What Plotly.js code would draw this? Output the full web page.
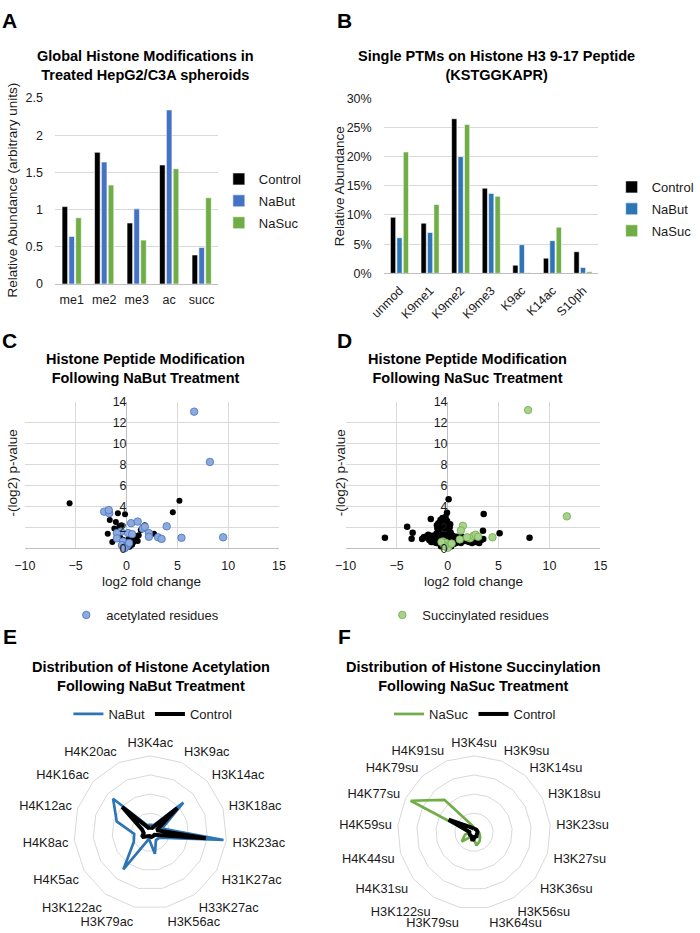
<!DOCTYPE html>
<html>
<head>
<meta charset="utf-8">
<script src="https://cdn.plot.ly/plotly-3.0.1.min.js"></script>
<style>html,body{margin:0;padding:0;background:#fff}#chart{width:700px;height:933px}</style>
</head>
<body>
<div id="chart"></div>
<script>
// ---------- Panel A data ----------
const aCategories = ['me1', 'me2', 'me3', 'ac', 'succ'];
const aControl = [1.04, 1.77, 0.82, 1.60, 0.39];
const aNaBut   = [0.64, 1.64, 1.01, 2.34, 0.49];
const aNaSuc   = [0.89, 1.33, 0.59, 1.55, 1.16];

// ---------- Panel B data (percent) ----------
const bCategories = ['unmod', 'K9me1', 'K9me2', 'K9me3', 'K9ac', 'K14ac', 'S10ph'];
const bControl = [9.6, 8.6, 26.5, 14.6, 1.4, 2.6, 3.7];
const bNaBut   = [6.1, 7.0, 20.0, 13.7, 4.9, 5.6, 1.0];
const bNaSuc   = [20.8, 11.8, 25.5, 13.2, 0.1, 7.9, 0.25];

// ---------- Panel C data (NaBut volcano) ----------
const cAllX = [-5.6, 5.2, 4.55, -0.85, -0.15, -1.65, -1.05, -0.5, -1.85, -1.4, 1.8, 2.7, 1.0, 1.4, 1.2, -0.9, -0.6, 0.4, 0.1, 0.7, 0.9, 0.3, -0.3, 0.55, 1.1, -1.2, -0.2, 0.2, 0.8, 0.0, 1.6, 0.6, -0.7];
const cAllY = [4.3, 4.55, 3.45, 3.35, 3.25, 2.7, 2.5, 2.2, 1.4, 0.6, 2.2, 1.4, 0.8, 1.75, 1.25, 1.75, 1.0, 0.5, 0.3, 0.6, 1.0, 0.15, 0.8, 0.35, 0.7, 1.9, 0.4, 0.9, 1.2, 0.1, 2.0, 0.9, 2.1];
const cAcX = [6.65, 8.2, -2.2, -1.7, -1.75, 0.45, 1.1, 3.95, 1.6, 1.8, 2.2, 2.2, 3.1, 3.45, 5.4, 9.5, 0.15, 0.55, -0.55, -0.95, -0.95, -0.35, -0.45, -0.05, 0.1, 0.25, -0.2];
const cAcY = [13.05, 8.25, 3.5, 3.35, 3.65, 2.4, 2.55, 2.1, 1.9, 2.05, 1.45, 1.1, 1.05, 0.9, 1.0, 1.05, 1.45, 1.35, 1.6, 1.45, 0.95, 0.65, 0.3, 0.15, 0.3, 0.5, 0.0];

// ---------- Panel D data (NaSuc volcano) ----------
const dAllX = [-6.15, -3.97, -3.43, -3.53, -2.34, -1.65, 0.1, -0.06, 3.54, 3.47, 5.1, 8.04,
  -0.2, -0.4, -0.1, 0.2, -0.6, -0.8, -1.0, -1.2, -1.5, -1.8, -0.3, 0.3, 0.5, 0.7, 0.9, 1.1, 1.4, 1.7, 2.0, 2.3,
  2.6, 2.9, 3.2, 3.5, 0.0, -0.5, -0.7, -0.9, -1.1, -0.15, 0.15, 0.4, 0.6, 0.8, 1.0, 1.3, 1.6, 2.1, 2.4, 2.8,
  3.1, -0.35, -0.65, -1.3, -1.6, -2.0, -0.05, 0.25, -0.25, -0.45, 0.05, -0.8, -1.0, 0.35,
  -0.9, -0.7, -0.5, -0.3, -0.1, 0.1, 0.3, -0.8, -0.6, -0.4, -0.2, 0.0, 0.2, 0.4, -1.1, -0.9, -0.7, -0.5, -0.3,
  -0.1, 0.1, 0.3, 0.5, -1.3, -1.5, -1.7, -2.2, -2.5, -1.9, -1.4, -1.2, -1.0, 0.6, 0.8, 1.0, 1.2, 1.5, 1.8, 2.2,
  2.5, 2.7, 3.0, 3.3, 0.45, 0.65, 0.85, -0.55, -0.35, -0.15, 0.05, -0.75, -1.05, -0.25, 0.15];
const dAllY = [1.01, 2.06, 1.49, 0.92, 1.05, 2.8, 4.68, 3.4, 3.27, 1.68, 1.43, 1.01,
  3.0, 2.5, 2.2, 2.0, 1.8, 1.6, 1.3, 1.1, 0.9, 0.8, 1.9, 1.5, 1.2, 1.0, 0.9, 0.8, 1.1, 0.9, 0.8, 1.0,
  0.9, 0.7, 0.8, 0.9, 1.4, 1.2, 0.9, 0.6, 0.5, 0.7, 0.9, 0.6, 0.4, 0.5, 0.6, 0.5, 0.7, 0.6, 0.5, 0.6,
  0.5, 0.3, 0.2, 0.7, 0.6, 1.0, 2.6, 2.3, 1.6, 1.0, 0.3, 2.1, 1.9, 0.2,
  2.4, 2.7, 2.9, 2.6, 2.4, 1.7, 1.3, 2.0, 1.7, 1.5, 1.3, 1.1, 1.2, 1.0, 1.4, 1.1, 1.0, 0.8, 0.6,
  0.5, 0.6, 0.7, 0.8, 0.9, 1.2, 1.0, 1.1, 0.9, 1.3, 0.6, 0.8, 0.9, 0.9, 0.7, 0.8, 0.9, 0.8, 0.7, 0.9,
  0.8, 1.0, 0.9, 0.8, 1.1, 1.0, 1.1, 1.9, 2.1, 1.8, 1.6, 2.3, 2.2, 0.9, 0.8];
const dSuX = [7.9, 11.7, 1.5, 1.3, 1.2, 2.2, 2.55, 2.75, 4.4, -0.45, -0.15, 0.15, 0.0, -0.3, 0.4, 1.9, 3.0, -0.6];
const dSuY = [13.2, 3.05, 2.15, 1.7, 0.85, 0.95, 1.2, 1.3, 1.05, 0.65, 0.5, 0.3, 0.05, 0.2, 0.45, 1.05, 1.1, 0.6];

// ---------- Panel E data (radar, acetylation; units = rings) ----------
const eCategories = ['H3K4ac', 'H3K9ac', 'H3K14ac', 'H3K18ac', 'H3K23ac', 'H31K27ac', 'H33K27ac', 'H3K56ac', 'H3K79ac', 'H3K122ac', 'H4K5ac', 'H4K8ac', 'H4K12ac', 'H4K16ac', 'H4K20ac'];
const eNaBut   = [0.4, 0.4, 2.32, 0.65, 3.85, 0.55, 0.5, 1.15, 0.35, 2.4, 1.0, 0.85, 1.85, 2.62, 0.4];
const eControl = [0.25, 0.25, 1.9, 0.35, 2.92, 0.25, 0.25, 0.25, 0.2, 0.25, 0.5, 0.35, 0.45, 1.98, 0.25];

// ---------- Panel F data (radar, succinylation; units = rings) ----------
const fCategories = ['H3K4su', 'H3K9su', 'H3K14su', 'H3K18su', 'H3K23su', 'H3K27su', 'H3K36su', 'H3K56su', 'H3K64su', 'H3K79su', 'H3K122su', 'H4K31su', 'H4K44su', 'H4K59su', 'H4K77su', 'H4K79su', 'H4K91su'];
const fNaSuc   = [0.25, 0.18, 0.18, 0.18, 0.25, 0.3, 0.4, 0.55, 0.7, 0.25, 0.25, 0.8, 0.5, 0.25, 3.7, 2.3, 0.45];
const fControl = [0.18, 0.18, 0.18, 0.18, 0.18, 0.18, 0.18, 0.25, 0.25, 0.45, 0.25, 0.25, 0.25, 0.25, 1.48, 0.4, 0.25];

// ---------- styling ----------
const FONT = '"Liberation Sans", Arial, sans-serif';
const TXT = '#1a1a1a';
const GRID = '#d9d9d9';
const AXLINE = '#bfbfbf';
const BLACK = '#000000';
const BLUE_A = '#4472C4';
const BLUE_B = '#2E75B6';
const GREEN = '#70AD47';
const W = 700, H = 933;
const px = v => v / W;
const py = v => 1 - v / H;
const close = arr => arr.concat([arr[0]]);

const traces = [];
// A
[['Control', aControl, BLACK], ['NaBut', aNaBut, BLUE_A], ['NaSuc', aNaSuc, GREEN]].forEach(([n, v, c]) => {
  traces.push({type: 'bar', name: n, x: aCategories, y: v, xaxis: 'x', yaxis: 'y',
    marker: {color: c, line: {color: '#ffffff', width: 0.6}}, legend: 'legend', legendgroup: 'a' + n});
});
// B
[['Control', bControl, BLACK], ['NaBut', bNaBut, BLUE_B], ['NaSuc', bNaSuc, GREEN]].forEach(([n, v, c]) => {
  traces.push({type: 'bar', name: n, x: bCategories, y: v, xaxis: 'x2', yaxis: 'y2',
    marker: {color: c, line: {color: '#ffffff', width: 0.6}}, legend: 'legend2', legendgroup: 'b' + n});
});
// C  (black points on the gridded axis, coloured points on the overlay axis whose labels sit at x = 0)
traces.push({type: 'scatter', mode: 'markers', x: cAllX, y: cAllY, xaxis: 'x3', yaxis: 'y3',
  marker: {color: BLACK, size: 6}, showlegend: false, name: 'all', cliponaxis: false});
traces.push({type: 'scatter', mode: 'markers', x: cAcX, y: cAcY, xaxis: 'x3', yaxis: 'y5',
  marker: {color: '#8EA9DB', size: 7.5, line: {color: '#4472C4', width: 0.8}},
  name: 'acetylated residues', legend: 'legend3', cliponaxis: false});
// D
traces.push({type: 'scatter', mode: 'markers', x: dAllX, y: dAllY, xaxis: 'x4', yaxis: 'y4',
  marker: {color: BLACK, size: 6.5}, showlegend: false, name: 'all', cliponaxis: false});
traces.push({type: 'scatter', mode: 'markers', x: dSuX, y: dSuY, xaxis: 'x4', yaxis: 'y6',
  marker: {color: '#A9D18E', size: 7.5, line: {color: '#70AD47', width: 0.8}},
  name: 'Succinylated residues', legend: 'legend4', cliponaxis: false});
// E
traces.push({type: 'scatterpolar', mode: 'lines', r: close(eNaBut), theta: close(eCategories), subplot: 'polar',
  line: {color: BLUE_B, width: 2.7}, name: 'NaBut', legend: 'legend5'});
traces.push({type: 'scatterpolar', mode: 'lines', r: close(eControl), theta: close(eCategories), subplot: 'polar',
  line: {color: BLACK, width: 4}, name: 'Control', legend: 'legend5'});
// F
traces.push({type: 'scatterpolar', mode: 'lines', r: close(fNaSuc), theta: close(fCategories), subplot: 'polar2',
  line: {color: GREEN, width: 2.7}, name: 'NaSuc', legend: 'legend6'});
traces.push({type: 'scatterpolar', mode: 'lines', r: close(fControl), theta: close(fCategories), subplot: 'polar2',
  line: {color: BLACK, width: 4}, name: 'Control', legend: 'legend6'});

const tickFont = {family: FONT, size: 12.5, color: TXT};
const barY = (dom, anchor, range, dtick, suffix) => ({domain: dom, anchor: anchor, range: range, dtick: dtick, ticksuffix: suffix || '',
  showgrid: true, gridcolor: GRID, zeroline: false, showline: false, ticks: 'outside', ticklen: 9,
  tickcolor: 'rgba(0,0,0,0)', tickfont: tickFont});
const barX = (dom, anchor, angle) => ({domain: dom, anchor: anchor, showline: true, linecolor: AXLINE, linewidth: 1,
  ticks: 'outside', ticklen: 4, tickcolor: 'rgba(0,0,0,0)', tickfont: tickFont, tickangle: angle, showgrid: false});
const volX = (dom, anchor) => ({domain: dom, anchor: anchor, range: [-10, 15], dtick: 5, showgrid: true, gridcolor: GRID,
  zeroline: true, zerolinecolor: AXLINE, zerolinewidth: 1, showline: false, ticks: 'outside', ticklen: 6,
  tickcolor: 'rgba(0,0,0,0)', tickfont: tickFont});
const volY = (dom, anchor) => ({domain: dom, anchor: anchor, range: [0, 14], dtick: 2, showgrid: true,
  gridcolor: GRID, zeroline: true, zerolinecolor: AXLINE, zerolinewidth: 1, showline: false, ticks: '',
  showticklabels: false});
const volYLabels = (over, pos) => ({overlaying: over, anchor: 'free', position: pos, range: [0, 14], dtick: 2,
  showgrid: false, zeroline: false, showline: false, ticks: '', tickfont: tickFont, layer: 'above traces'});
const polar = (xd, yd) => ({domain: {x: xd, y: yd}, bgcolor: '#ffffff', gridshape: 'linear',
  radialaxis: {range: [0, 4], dtick: 1, showticklabels: false, ticks: '', showline: false, gridcolor: GRID, gridwidth: 1},
  angularaxis: {direction: 'clockwise', rotation: 90, showgrid: false, linecolor: GRID, linewidth: 1,
    ticks: 'outside', ticklen: 3, tickcolor: 'rgba(0,0,0,0)', tickfont: {family: FONT, size: 12.8, color: TXT}}});
const legendBase = {font: {family: FONT, size: 13, color: TXT}, bgcolor: 'rgba(0,0,0,0)', borderwidth: 0};

const ann = (text, x, y, opts) => Object.assign({text: text, x: px(x), y: py(y), xref: 'paper', yref: 'paper',
  showarrow: false, xanchor: 'center', yanchor: 'middle', font: {family: FONT, size: 12.5, color: TXT}}, opts || {});
const titleFont = {family: FONT, size: 14.5, color: '#000'};
const letterFont = {family: FONT, size: 21, color: '#000'};
const axTitleFont = {family: FONT, size: 13.5, color: TXT};

const layout = {
  width: W, height: H, margin: {l: 0, r: 0, t: 0, b: 0}, paper_bgcolor: '#fff', plot_bgcolor: '#fff',
  font: {family: FONT, size: 12, color: TXT},
  barmode: 'group', bargap: 0.37, bargroupgap: 0.18,
  xaxis: barX([px(58), px(228)], 'y', 0),
  yaxis: barY([py(284), py(98)], 'x', [0, 2.5], 0.5),
  xaxis2: barX([px(402), px(626)], 'y2', -45),
  yaxis2: barY([py(273.3), py(98.3)], 'x2', [0, 30], 5, '%'),
  xaxis3: volX([px(26), px(292)], 'y3'),
  yaxis3: volY([py(548.3), py(401.7)], 'x3'),
  yaxis5: volYLabels('y3', px(132.4)),
  xaxis4: volX([px(361.7), px(628.3)], 'y4'),
  yaxis4: volY([py(548.3), py(401.7)], 'x4'),
  yaxis6: volYLabels('y4', px(468.3)),
  polar: polar([px(77.3), px(237.3)], [py(912.3), py(752.3)]),
  polar2: polar([px(416), px(576)], [py(912.3), py(752.3)]),
  legend: Object.assign({}, legendBase, {x: px(229), y: py(164), xanchor: 'left', yanchor: 'top', traceorder: 'grouped', tracegroupgap: 2, itemwidth: 30}),
  legend2: Object.assign({}, legendBase, {x: px(640), y: py(172), xanchor: 'left', yanchor: 'top', traceorder: 'grouped', tracegroupgap: 2, itemwidth: 30}),
  legend3: Object.assign({}, legendBase, {x: px(152), y: py(615), xanchor: 'center', yanchor: 'middle', orientation: 'h', itemwidth: 30}),
  legend4: Object.assign({}, legendBase, {x: px(490), y: py(615), xanchor: 'center', yanchor: 'middle', orientation: 'h', itemwidth: 30}),
  legend5: Object.assign({}, legendBase, {x: px(160), y: py(714), xanchor: 'center', yanchor: 'middle', orientation: 'h'}),
  legend6: Object.assign({}, legendBase, {x: px(497), y: py(714), xanchor: 'center', yanchor: 'middle', orientation: 'h'}),
  annotations: [
    ann('<b>A</b>', 10, 21, {font: letterFont}),
    ann('<b>B</b>', 360, 21, {font: letterFont}),
    ann('<b>C</b>', 10, 340, {font: letterFont}),
    ann('<b>D</b>', 360, 340, {font: letterFont}),
    ann('<b>E</b>', 10, 636, {font: letterFont}),
    ann('<b>F</b>', 360, 636, {font: letterFont}),
    ann('<b>Global Histone Modifications in<br>Treated HepG2/C3A spheroids</b>', 152, 65, {font: titleFont}),
    ann('<b>Single PTMs on Histone H3 9-17 Peptide<br>(KSTGGKAPR)</b>', 520, 65, {font: titleFont}),
    ann('<b>Histone Peptide Modification<br>Following NaBut Treatment</b>', 152, 368, {font: titleFont}),
    ann('<b>Histone Peptide Modification<br>Following NaSuc Treatment</b>', 489, 368, {font: titleFont}),
    ann('<b>Distribution of Histone Acetylation<br>Following NaBut Treatment</b>', 158, 676, {font: titleFont}),
    ann('<b>Distribution of Histone Succinylation<br>Following NaSuc Treatment</b>', 495, 676, {font: titleFont}),
    ann('Relative Abundance (arbitrary units)', 13, 190, {textangle: -90, font: axTitleFont}),
    ann('Relative Abundance', 355, 186, {textangle: -90, font: axTitleFont}),
    ann('-(log2) p-value', 14, 473, {textangle: -90, font: axTitleFont}),
    ann('-(log2) p-value', 357, 473, {textangle: -90, font: axTitleFont}),
    ann('log2 fold change', 159, 581, {font: axTitleFont}),
    ann('log2 fold change', 495, 581, {font: axTitleFont})
  ]
};

Plotly.newPlot('chart', traces, layout, {staticPlot: true, displayModeBar: false});
</script>
</body>
</html>
